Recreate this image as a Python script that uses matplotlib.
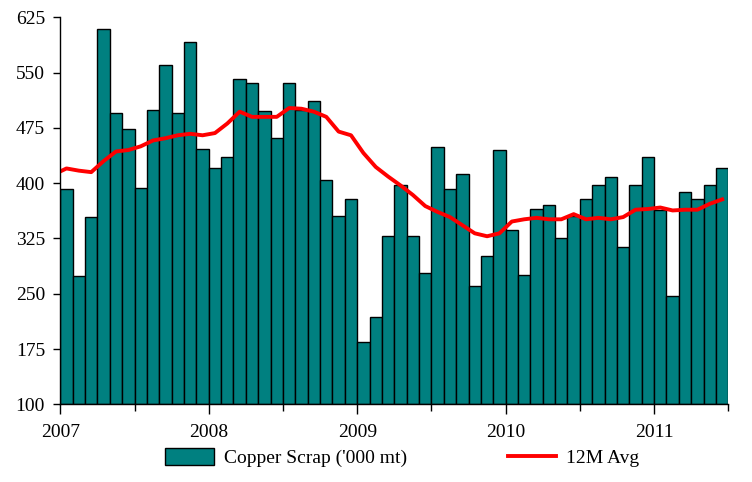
import numpy as np
import matplotlib
matplotlib.use("Agg")
import matplotlib.pyplot as plt
from matplotlib.ticker import FixedLocator

# monthly copper scrap, Jan 2007 - Jun 2011 ('000 mt)
scrap = [392, 274, 354, 609, 495, 474, 394, 499, 561, 495, 591, 447,
         420, 436, 541, 536, 498, 461, 536, 499, 511, 405, 355, 378,
         184, 218, 328, 398, 328, 278, 449, 392, 412, 261, 301, 445,
         337, 275, 365, 371, 325, 355, 378, 398, 408, 314, 398, 435,
         364, 247, 388, 378, 398, 420]

# 12 month average, Dec 2006 - Jun 2011 (first point sits left of the axis)
avg12 = [412,
         420, 417, 415, 430, 443, 445, 450, 458, 461, 465, 467, 465,
         468, 481, 497, 490, 490, 490, 502, 501, 497, 490, 470, 465,
         441, 422, 409, 397, 384, 369, 361, 354, 343, 332, 328, 332,
         348, 351, 353, 351, 351, 358, 351, 353, 351, 354, 364, 365,
         367, 363, 364, 364, 372, 378]

years = ["2007", "2008", "2009", "2010", "2011"]

plt.rcParams["font.family"] = ["Liberation Serif", "DejaVu Serif"]

fig = plt.figure(figsize=(7.52, 4.82), dpi=100)
ax = fig.add_axes([0.0802, 0.1612, 0.8883, 0.8028])

x = np.arange(len(scrap))
bars = ax.bar(x, np.array(scrap) - 100, bottom=100, width=1.0, color="#008080",
              edgecolor="black", linewidth=1.0)
line, = ax.plot(np.arange(-1, len(scrap)), avg12, color="#ff0000", linewidth=2.8,
                solid_joinstyle="round")

ax.set_xlim(-0.5, len(scrap) - 0.5)
ax.set_ylim(100, 625)
ax.set_yticks(np.arange(100, 626, 75))

year_pos = [-0.5 + 12 * i for i in range(len(years))]
ax.xaxis.set_major_locator(FixedLocator(year_pos))
ax.xaxis.set_minor_locator(FixedLocator([5.5 + 12 * i for i in range(5)]))
ax.set_xticklabels(years)

ax.spines["top"].set_visible(False)
ax.spines["right"].set_visible(False)
for s in ("left", "bottom"):
    ax.spines[s].set_linewidth(1.0)

ax.tick_params(axis="y", length=5, width=1, pad=6, labelsize=14)
ax.tick_params(axis="x", which="major", length=7, width=1, pad=7, labelsize=14)
ax.tick_params(axis="x", which="minor", length=5, width=1)

fig.legend([bars, line], ["Copper Scrap ('000 mt)", "12M Avg"],
           loc="center", bbox_to_anchor=(0.535, 0.05), ncol=2, frameon=False,
           fontsize=14, handlelength=2.5, handleheight=0.9,
           handletextpad=0.5, columnspacing=5.2)

fig.savefig("out.png", dpi=100)
